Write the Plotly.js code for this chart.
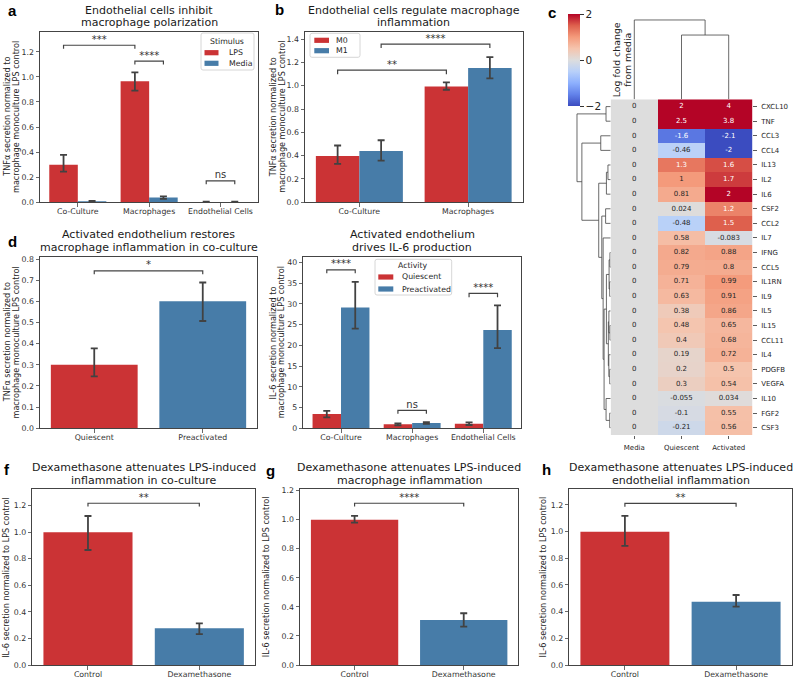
<!DOCTYPE html>
<html><head><meta charset="utf-8">
<script src="https://cdn.plot.ly/plotly-3.0.1.min.js"></script>
<style>html,body{margin:0;padding:0;background:#fff}</style>
</head><body><div id="chart" style="width:796px;height:678px"></div>
<script>
// ---------------- DATA ----------------
// Panel a
const aCategories = ['Co-Culture', 'Macrophages', 'Endothelial Cells'];
const aLegendTitle = 'Stimulus';
const aHue = ['LPS', 'Media'];
const aLPS = [0.30, 0.965, 0.003];
const aLPSLow = [0.245, 0.89, 0.001];
const aLPSHigh = [0.378, 1.035, 0.005];
const aMedia = [0.008, 0.038, 0.003];
const aMediaLow = [0.005, 0.028, 0.001];
const aMediaHigh = [0.011, 0.048, 0.005];
// brackets: [group1, hue1, group2, hue2, legBottom, top, label]
const aBrackets = [[0, 0, 1, 0, 1.225, 1.252, '***'], [1, 0, 1, 1, 1.098, 1.125, '****'], [2, 0, 2, 1, 0.143, 0.170, 'ns']];

// Panel b
const bCategories = ['Co-Culture', 'Macrophages'];
const bHue = ['M0', 'M1'];
const bM0 = [0.398, 0.993];
const bM0Low = [0.329, 0.965];
const bM0High = [0.487, 1.028];
const bM1 = [0.441, 1.151];
const bM1Low = [0.358, 1.062];
const bM1High = [0.532, 1.245];
const bBrackets = [[0, 0, 1, 0, 1.099, 1.134, '**'], [0, 1, 1, 1, 1.323, 1.357, '****']];

// Panel c (heatmap)
const cytokines = ['CXCL10', 'TNF', 'CCL3', 'CCL4', 'IL13', 'IL2', 'IL6', 'CSF2', 'CCL2', 'IL7', 'IFNG', 'CCL5', 'IL1RN', 'IL9', 'IL5', 'IL15', 'CCL11', 'IL4', 'PDGFB', 'VEGFA', 'IL10', 'FGF2', 'CSF3'];
const conditions = ['Media', 'Quiescent', 'Activated'];
const mediaLFC = [0, 0, 0, 0, 0, 0, 0, 0, 0, 0, 0, 0, 0, 0, 0, 0, 0, 0, 0, 0, 0, 0, 0];
const quiescentLFC = [2, 2.5, -1.6, -0.46, 1.3, 1, 0.81, 0.024, -0.48, 0.58, 0.82, 0.79, 0.71, 0.63, 0.38, 0.48, 0.4, 0.19, 0.2, 0.3, -0.055, -0.1, -0.21];
const activatedLFC = [4, 3.8, -2.1, -2, 1.6, 1.7, 2, 1.2, 1.5, -0.083, 0.88, 0.8, 0.99, 0.91, 0.86, 0.65, 0.68, 0.72, 0.5, 0.54, 0.034, 0.55, 0.56];
const cbarTicks = [-2, 0, 2];
const cbarLabel = ['Log fold change', 'from media'];
// column linkage: [childA, childB, height relative to root]
const colLinkage = [[1, 2, 0.81], [0, 3, 1.0]];

// Panel d
const dCategories = ['Quiescent', 'Preactivated'];
const dValues = [0.30, 0.60];
const dLow = [0.245, 0.507];
const dHigh = [0.378, 0.689];
const dBrackets = [[0, 1, 0.728, 0.744, '*']];

// Panel e
const eCategories = ['Co-Culture', 'Macrophages', 'Endothelial Cells'];
const eLegendTitle = 'Activity';
const eHue = ['Quiescent', 'Preactivated'];
const eQuiescent = [3.45, 0.96, 1.12];
const eQuiescentLow = [2.65, 0.72, 0.80];
const eQuiescentHigh = [4.2, 1.2, 1.45];
const ePreactivated = [29.1, 1.29, 23.7];
const ePreactivatedLow = [24.0, 1.05, 19.3];
const ePreactivatedHigh = [35.3, 1.5, 29.6];
const eBrackets = [[0, 0, 0, 1, 37.35, 38.15, '****'], [1, 0, 1, 1, 3.53, 4.34, 'ns'], [2, 0, 2, 1, 31.6, 32.5, '****']];

// Panels f, g, h
const dexCategories = ['Control', 'Dexamethasone'];
const fValues = [1.0, 0.276];
const fLow = [0.866, 0.233];
const fHigh = [1.122, 0.314];
const fBrackets = [[0, 1, 1.193, 1.218, '**']];
const gValues = [1.0, 0.31];
const gLow = [0.98, 0.264];
const gHigh = [1.026, 0.356];
const gBrackets = [[0, 1, 1.09, 1.113, '****']];
const hValues = [1.0, 0.475];
const hLow = [0.893, 0.4375];
const hHigh = [1.118, 0.525];
const hBrackets = [[0, 1, 1.1875, 1.2125, '**']];

// ---------------- STYLE / LAYOUT ----------------
const W = 796, H = 678;
const FONT = 'DejaVu Sans, Verdana, sans-serif';
const RED = '#cb3335', BLUE = '#477ca8';
const HUE_COLORS = [RED, BLUE];
const ERR = '#424242';
const fx = px => px / W;
const fy = px => 1 - px / H;
const box = (l, t, r, b) => ({ x: [fx(l), fx(r)], y: [fy(b), fy(t)], l, t, r, b });

const P = {
  a: box(40, 31.7, 258.3, 202.3),
  b: box(305, 31.7, 522.5, 202.3),
  heat: box(610.7, 99.3, 752.3, 435),
  rowd: box(575.3, 99.3, 610.7, 435),
  cold: box(610.7, 16, 752.3, 99.3),
  d: box(40, 256.7, 257, 428.3),
  e: box(303.3, 257.3, 521, 428.3),
  f: box(32.3, 489.3, 255, 665),
  g: box(300, 489.3, 518.3, 665),
  h: box(569.3, 489.3, 791.7, 665)
};

const coolwarm = [
  [0.0, [59, 76, 192]], [0.125, [98, 130, 234]], [0.25, [141, 176, 254]], [0.375, [184, 208, 249]],
  [0.5, [221, 221, 221]], [0.625, [245, 196, 173]], [0.75, [244, 154, 123]], [0.875, [222, 96, 77]], [1.0, [180, 4, 38]]
];
const csPlotly = coolwarm.map(s => [s[0], `rgb(${s[1].join(',')})`]);
function cwColor(t) {
  t = Math.max(0, Math.min(1, t));
  for (let i = 1; i < coolwarm.length; i++) {
    if (t <= coolwarm[i][0]) {
      const [t0, c0] = coolwarm[i - 1], [t1, c1] = coolwarm[i];
      const f = (t - t0) / (t1 - t0);
      return c0.map((v, k) => v + f * (c1[k] - v));
    }
  }
  return coolwarm[coolwarm.length - 1][1];
}
function relLum(rgb) {
  const lin = rgb.map(v => { v /= 255; return v <= 0.03928 ? v / 12.92 : Math.pow((v + 0.055) / 1.055, 2.4); });
  return 0.2126 * lin[0] + 0.7152 * lin[1] + 0.0722 * lin[2];
}
function fmt2g(v) { return v === 0 ? '0' : String(Number(v.toPrecision(2))); }

function axisBase(extra) {
  return Object.assign({
    showline: true, mirror: true, linecolor: '#444', linewidth: 1,
    ticks: 'outside', ticklen: 3.5, tickwidth: 0.8, tickcolor: '#444',
    tickfont: { family: FONT, size: 7.8, color: '#333' },
    showgrid: false, zeroline: false, fixedrange: true
  }, extra);
}

const traces = [];
const annotations = [];
const shapes = [];

function addBar(xs, ys, lo, hi, color, xa, ya, width, offset) {
  traces.push({
    type: 'bar', x: xs, y: ys, width: width, offset: offset,
    marker: { color: color, line: { width: 0 } },
    xaxis: xa, yaxis: ya, showlegend: false,
    error_y: {
      type: 'data', symmetric: false,
      array: ys.map((v, i) => hi[i] - v), arrayminus: ys.map((v, i) => v - lo[i]),
      color: ERR, thickness: 1.8, width: 3.5
    }
  });
}
function addBrackets(list, grouped, xa, ya) {
  const bx = [], by = [], tx = [], ty = [], tt = [];
  list.forEach(br => {
    let x1, x2, yb, yt, lab;
    if (grouped) {
      x1 = br[0] + (br[1] === 0 ? -0.2 : 0.2);
      x2 = br[2] + (br[3] === 0 ? -0.2 : 0.2);
      yb = br[4]; yt = br[5]; lab = br[6];
    } else {
      x1 = br[0]; x2 = br[1]; yb = br[2]; yt = br[3]; lab = br[4];
    }
    bx.push(x1, x1, x2, x2, null); by.push(yb, yt, yt, yb, null);
    tx.push((x1 + x2) / 2); ty.push(yt); tt.push(lab);
  });
  traces.push({ type: 'scatter', mode: 'lines', x: bx, y: by, xaxis: xa, yaxis: ya,
    line: { color: '#444', width: 1.2 }, showlegend: false, hoverinfo: 'skip', cliponaxis: false });
  traces.push({ type: 'scatter', mode: 'text', x: tx, y: ty, text: tt, textposition: 'top center',
    textfont: { family: FONT, size: 10, color: '#333' }, xaxis: xa, yaxis: ya, showlegend: false, cliponaxis: false });
}
function addTitle(lines, p, ys) {
  lines.forEach((t, i) => annotations.push({
    text: t, xref: 'paper', yref: 'paper', x: fx((p.l + p.r) / 2), y: fy(ys[i]),
    xanchor: 'center', yanchor: 'middle', showarrow: false,
    font: { family: FONT, size: 11, color: '#1a1a1a' }
  }));
}
function addYLabel(lines, xs, p) {
  lines.forEach((t, i) => annotations.push({
    text: t, xref: 'paper', yref: 'paper', x: fx(xs[i]), y: fy((p.t + p.b) / 2),
    xanchor: 'center', yanchor: 'middle', textangle: -90, showarrow: false,
    font: { family: FONT, size: 8.1, color: '#262626' }
  }));
}
function addLetter(t, x, y) {
  annotations.push({ text: '<b>' + t + '</b>', xref: 'paper', yref: 'paper', x: fx(x), y: fy(y),
    xanchor: 'center', yanchor: 'middle', showarrow: false,
    font: { family: 'Liberation Sans, Arial, sans-serif', size: 15, color: '#000' } });
}
function roundRect(l, t, r, b, rad) {
  const X = fx, Y = fy;
  return `M ${X(l + rad)},${Y(t)} L ${X(r - rad)},${Y(t)} Q ${X(r)},${Y(t)} ${X(r)},${Y(t + rad)} ` +
    `L ${X(r)},${Y(b - rad)} Q ${X(r)},${Y(b)} ${X(r - rad)},${Y(b)} L ${X(l + rad)},${Y(b)} ` +
    `Q ${X(l)},${Y(b)} ${X(l)},${Y(b - rad)} L ${X(l)},${Y(t + rad)} Q ${X(l)},${Y(t)} ${X(l + rad)},${Y(t)} Z`;
}
// manual legend (matplotlib style)
function addLegend(frame, title, titleY, labels, itemYs, swatchX, textX) {
  shapes.push({ type: 'path', xref: 'paper', yref: 'paper', path: roundRect(frame[0], frame[1], frame[2], frame[3], 2),
    line: { color: '#cccccc', width: 0.8 }, fillcolor: 'rgba(255,255,255,0.85)', layer: 'above' });
  if (title) annotations.push({ text: title, xref: 'paper', yref: 'paper', x: fx((frame[0] + frame[2]) / 2), y: fy(titleY),
    xanchor: 'center', yanchor: 'middle', showarrow: false, font: { family: FONT, size: 7.8, color: '#262626' } });
  labels.forEach((lab, i) => {
    shapes.push({ type: 'rect', xref: 'paper', yref: 'paper', x0: fx(swatchX[0]), x1: fx(swatchX[1]),
      y0: fy(itemYs[i] + 2.6), y1: fy(itemYs[i] - 2.6), fillcolor: HUE_COLORS[i], line: { width: 0 }, layer: 'above' });
    annotations.push({ text: lab, xref: 'paper', yref: 'paper', x: fx(textX), y: fy(itemYs[i]),
      xanchor: 'left', yanchor: 'middle', showarrow: false, font: { family: FONT, size: 7.8, color: '#262626' } });
  });
}
const idx = arr => arr.map((_, i) => i);

// Panel a
addBar(idx(aCategories), aLPS, aLPSLow, aLPSHigh, HUE_COLORS[0], 'x', 'y', 0.4, -0.4);
addBar(idx(aCategories), aMedia, aMediaLow, aMediaHigh, HUE_COLORS[1], 'x', 'y', 0.4, 0);
addBrackets(aBrackets, true, 'x', 'y');
addLegend([201, 33, 254, 70], aLegendTitle, 41, aHue, [52.7, 63.3], [204.5, 218.5], 227.3);
// Panel b
addBar(idx(bCategories), bM0, bM0Low, bM0High, HUE_COLORS[0], 'x2', 'y2', 0.4, -0.4);
addBar(idx(bCategories), bM1, bM1Low, bM1High, HUE_COLORS[1], 'x2', 'y2', 0.4, 0);
addBrackets(bBrackets, true, 'x2', 'y2');
addLegend([310, 33.3, 360, 57.3], null, 0, bHue, [40.3, 50.7], [314.3, 329], 334);
// Panel d
addBar(idx(dCategories), dValues, dLow, dHigh, HUE_COLORS, 'x6', 'y6', 0.8, -0.4);
addBrackets(dBrackets, false, 'x6', 'y6');
// Panel e
addBar(idx(eCategories), eQuiescent, eQuiescentLow, eQuiescentHigh, HUE_COLORS[0], 'x7', 'y7', 0.4, -0.4);
addBar(idx(eCategories), ePreactivated, ePreactivatedLow, ePreactivatedHigh, HUE_COLORS[1], 'x7', 'y7', 0.4, 0);
addBrackets(eBrackets, true, 'x7', 'y7');
addLegend([375, 259.3, 451.7, 295], eLegendTitle, 265.7, eHue, [277, 289], [378.3, 393.3], 400);
// Panels f g h
addBar(idx(dexCategories), fValues, fLow, fHigh, HUE_COLORS, 'x8', 'y8', 0.8, -0.4);
addBrackets(fBrackets, false, 'x8', 'y8');
addBar(idx(dexCategories), gValues, gLow, gHigh, HUE_COLORS, 'x9', 'y9', 0.8, -0.4);
addBrackets(gBrackets, false, 'x9', 'y9');
addBar(idx(dexCategories), hValues, hLow, hHigh, HUE_COLORS, 'x10', 'y10', 0.8, -0.4);
addBrackets(hBrackets, false, 'x10', 'y10');

// Panel c heatmap
const columns = [mediaLFC, quiescentLFC, activatedLFC];
const z = cytokines.map((_, i) => columns.map(col => col[i]));
traces.push({
  type: 'heatmap', z: z, x: idx(conditions), y: idx(cytokines), xaxis: 'x3', yaxis: 'y3',
  zmin: -2, zmax: 2, colorscale: csPlotly, hoverinfo: 'skip',
  colorbar: {
    x: fx(568.3), xanchor: 'left', xref: 'paper', y: fy(14), yanchor: 'top', yref: 'paper',
    len: 91.7, lenmode: 'pixels', thickness: 12.4, thicknessmode: 'pixels',
    outlinewidth: 0, tickvals: cbarTicks, ticks: 'outside', ticklen: 4, tickcolor: '#333',
    tickfont: { family: FONT, size: 10.5, color: '#222' }, xpad: 0, ypad: 0
  }
});
const tx = [], ty = [], tt = [], tc = [];
cytokines.forEach((_, i) => columns.forEach((col, j) => {
  const v = col[i];
  tx.push(j); ty.push(i); tt.push(fmt2g(v));
  const lum = relLum(cwColor((v + 2) / 4));
  tc.push(lum > 0.408 ? '#262626' : '#ffffff');
}));
traces.push({ type: 'scatter', mode: 'text', x: tx, y: ty, text: tt, xaxis: 'x3', yaxis: 'y3',
  textposition: 'middle center', textfont: { family: FONT, size: 7, color: tc }, showlegend: false, hoverinfo: 'skip' });

// row dendrogram: average linkage, euclidean on the rows
function linkage(vecs) {
  const dist = (a, b) => Math.sqrt(a.reduce((s, v, k) => s + (v - b[k]) ** 2, 0));
  let clusters = vecs.map((v, i) => ({ members: [i], h: 0, leaf: i }));
  while (clusters.length > 1) {
    let best = null;
    for (let i = 0; i < clusters.length; i++)
      for (let j = i + 1; j < clusters.length; j++) {
        let s = 0;
        for (const p of clusters[i].members) for (const q of clusters[j].members) s += dist(vecs[p], vecs[q]);
        s /= clusters[i].members.length * clusters[j].members.length;
        if (!best || s < best.d - 1e-12) best = { i, j, d: s };
      }
    const A = clusters[best.i], B = clusters[best.j];
    const C = { members: A.members.concat(B.members), h: best.d, children: [A, B] };
    clusters = clusters.filter((_, k) => k !== best.i && k !== best.j);
    clusters.push(C);
  }
  return clusters[0];
}
function fromLinkage(n, L) {
  const nodes = [];
  for (let i = 0; i < n; i++) nodes.push({ leaf: i, h: 0 });
  L.forEach(m => nodes.push({ children: [nodes[m[0]], nodes[m[1]]], h: m[2] }));
  return nodes[nodes.length - 1];
}
function segments(root) {
  const pos = [], hs = [];
  (function place(node) {
    if (!node.children) return node.leaf;
    const pa = place(node.children[0]), pb = place(node.children[1]);
    pos.push(pa, pa, pb, pb, null);
    hs.push(node.children[0].h, node.h, node.h, node.children[1].h, null);
    return (pa + pb) / 2;
  })(root);
  return { pos, hs };
}
const rowRoot = linkage(cytokines.map((_, i) => columns.map(c => c[i])));
const rowSeg = segments(rowRoot);
traces.push({ type: 'scatter', mode: 'lines', x: rowSeg.hs, y: rowSeg.pos, xaxis: 'x4', yaxis: 'y4',
  line: { color: '#444', width: 0.8 }, showlegend: false, hoverinfo: 'skip' });
const colRoot = fromLinkage(conditions.length, colLinkage);
const colSeg = segments(colRoot);
traces.push({ type: 'scatter', mode: 'lines', x: colSeg.pos, y: colSeg.hs, xaxis: 'x5', yaxis: 'y5',
  line: { color: '#444', width: 0.8 }, showlegend: false, hoverinfo: 'skip' });

// annotations
addTitle(['Endothelial cells inhibit', 'macrophage polarization'], P.a, [10.5, 23]);
addTitle(['Endothelial cells regulate macrophage', 'inflammation'], P.b, [10.5, 23]);
addTitle(['Activated endothelium restores', 'macrophage inflammation in co-culture'], P.d, [234.6, 247.3]);
addTitle(['Activated endothelium', 'drives IL-6 production'], P.e, [234.4, 247.1]);
addTitle(['Dexamethasone attenuates LPS-induced', 'inflammation in co-culture'], P.f, [467.8, 480.5]);
addTitle(['Dexamethasone attenuates LPS-induced', 'macrophage inflammation'], P.g, [467.8, 480.5]);
addTitle(['Dexamethasone attenuates LPS-induced', 'endothelial inflammation'], P.h, [467.8, 480.5]);
const tnfLabel = ['TNF\u03b1 secretion normalized to', 'macrophage monoculture LPS control'];
addYLabel(tnfLabel, [6.7, 16], P.a);
addYLabel(tnfLabel, [273.3, 281.7], P.b);
addYLabel(tnfLabel, [6.7, 15], P.d);
addYLabel(['IL-6 secretion normalized to', 'macrophage monoculture LPS control'], [272.7, 280.5], P.e);
addYLabel(['IL-6 secretion normalized to LPS control'], [5.7], P.f);
addYLabel(['IL-6 secretion normalized to LPS control'], [266], P.g);
addYLabel(['IL-6 secretion normalized to LPS control'], [543.3], P.h);
[616.7, 627.2].forEach((xp, i) => annotations.push({ text: cbarLabel[i], xref: 'paper', yref: 'paper', x: fx(xp), y: fy(59.5),
  xanchor: 'center', yanchor: 'middle', textangle: -90, showarrow: false, font: { family: FONT, size: 9.4, color: '#222' } }));
addLetter('a', 12.5, 11); addLetter('b', 279, 10); addLetter('c', 552, 12); addLetter('d', 12.5, 241);
addLetter('f', 7.5, 469); addLetter('g', 270, 470); addLetter('h', 546.5, 469.5);

const catAxis = (cats, range, p, anchor) => axisBase({ domain: p.x, range: range, tickvals: idx(cats), ticktext: cats, anchor: anchor, ticklabelstandoff: -2 });
const valAxis = (range, dtick, fmt, p, anchor) => axisBase({ domain: p.y, range: range, dtick: dtick, tick0: 0, tickformat: fmt, anchor: anchor });

const layout = {
  width: W, height: H, margin: { l: 0, r: 0, t: 0, b: 0 },
  paper_bgcolor: '#fff', plot_bgcolor: 'rgba(0,0,0,0)', barmode: 'overlay',
  hovermode: false, showlegend: false, font: { family: FONT, color: '#262626' },
  xaxis: catAxis(aCategories, [-0.53, 2.53], P.a, 'y'),
  yaxis: valAxis([0, 1.36], 0.2, '.1f', P.a, 'x'),
  xaxis2: catAxis(bCategories, [-0.5, 1.5], P.b, 'y2'),
  yaxis2: valAxis([0, 1.463], 0.2, '.1f', P.b, 'x2'),
  xaxis3: { domain: P.heat.x, range: [-0.5, 2.5], anchor: 'y3', tickvals: idx(conditions), ticktext: conditions,
    ticks: 'outside', ticklen: 3, tickwidth: 0.8, tickcolor: '#333', showline: false, showgrid: false, zeroline: false,
    ticklabelstandoff: 3, tickfont: { family: FONT, size: 7, color: '#262626' } },
  yaxis3: { domain: P.heat.y, range: [22.5, -0.5], anchor: 'x3', side: 'right', tickvals: idx(cytokines), ticktext: cytokines,
    ticks: 'outside', ticklen: 3.5, tickwidth: 0.8, tickcolor: '#333', showline: false, showgrid: false, zeroline: false,
    ticklabelstandoff: 3, tickfont: { family: FONT, size: 7, color: '#262626' } },
  xaxis4: { domain: P.rowd.x, range: [rowRoot.h * 1.05, 0], anchor: 'y4', visible: false },
  yaxis4: { domain: P.rowd.y, range: [22.5, -0.5], anchor: 'x4', visible: false },
  xaxis5: { domain: P.cold.x, range: [-0.5, 2.5], anchor: 'y5', visible: false },
  yaxis5: { domain: P.cold.y, range: [0, colRoot.h * 1.05], anchor: 'x5', visible: false },
  xaxis6: catAxis(dCategories, [-0.5, 1.5], P.d, 'y6'),
  yaxis6: valAxis([0, 0.811], 0.1, '.1f', P.d, 'x6'),
  xaxis7: catAxis(eCategories, [-0.53, 2.53], P.e, 'y7'),
  yaxis7: valAxis([0, 41.2], 5, 'd', P.e, 'x7'),
  xaxis8: catAxis(dexCategories, [-0.5, 1.5], P.f, 'y8'),
  yaxis8: valAxis([0, 1.323], 0.2, '.1f', P.f, 'x8'),
  xaxis9: catAxis(dexCategories, [-0.5, 1.5], P.g, 'y9'),
  yaxis9: valAxis([0, 1.209], 0.2, '.1f', P.g, 'x9'),
  xaxis10: catAxis(dexCategories, [-0.5, 1.5], P.h, 'y10'),
  yaxis10: valAxis([0, 1.3175], 0.2, '.1f', P.h, 'x10'),
  annotations: annotations,
  shapes: shapes
};

Plotly.newPlot('chart', traces, layout, { staticPlot: true, displayModeBar: false });
</script>
</body></html>
